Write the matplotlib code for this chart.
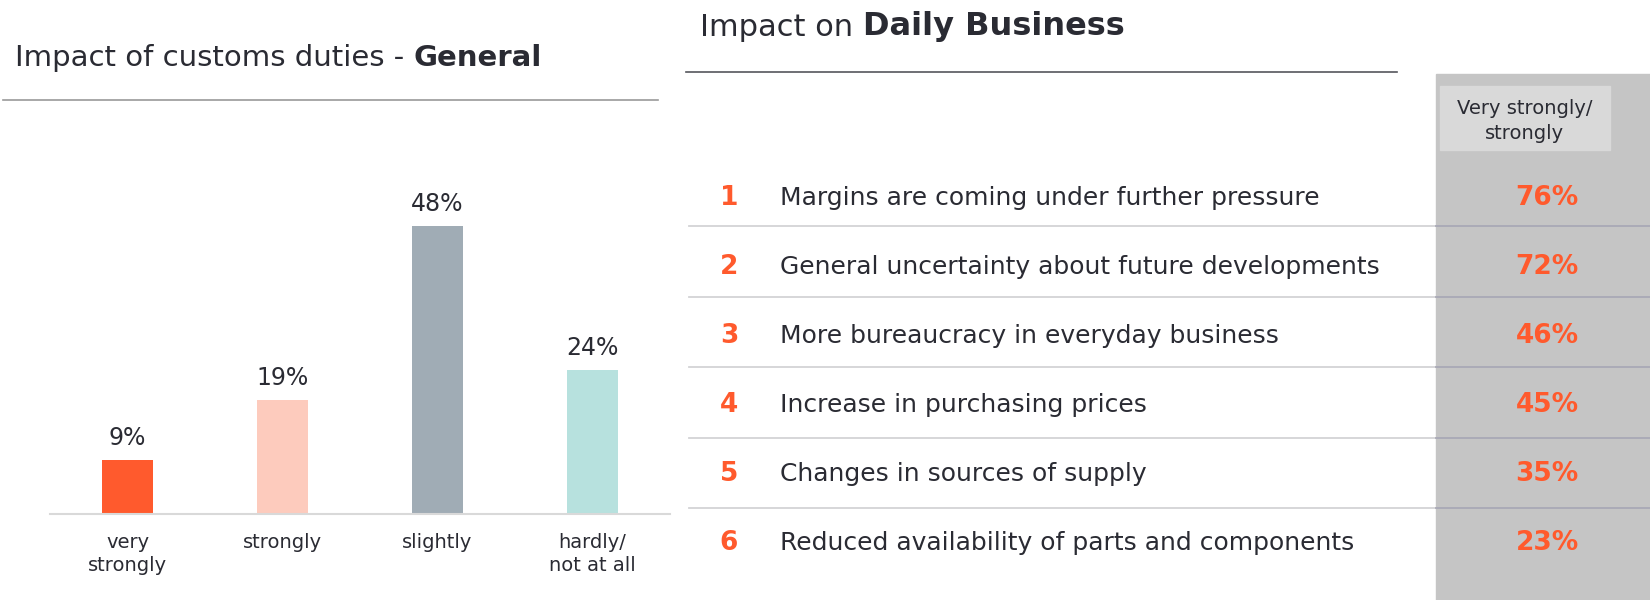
import matplotlib
matplotlib.use("Agg")
import matplotlib.pyplot as plt
import numpy as np

# ---------- Data ----------
general_labels = ["very\nstrongly", "strongly", "slightly", "hardly/\nnot at all"]
general_values = [9, 19, 48, 24]
general_colors = ["#ff5a2d", "#fdcbbd", "#a0acb5", "#b7e1de"]

impact_items = [
    "Margins are coming under further pressure",
    "General uncertainty about future developments",
    "More bureaucracy in everyday business",
    "Increase in purchasing prices",
    "Changes in sources of supply",
    "Reduced availability of parts and components",
]
impact_values = [76, 72, 46, 45, 35, 23]

ORANGE = "#ff5a2d"
DARK = "#2a2b33"
W, H = 1650, 600

plt.rcParams["font.family"] = ["DejaVu Sans"]
fig = plt.figure(figsize=(W / 100, H / 100), dpi=100)

# overlay axes in pixel coordinates (y downwards)
bg = fig.add_axes([0, 0, 1, 1])
bg.set_xlim(0, W)
bg.set_ylim(H, 0)
bg.axis("off")


def two_part_title(x, y, normal, bold, size, bold_size=None):
    t = bg.text(x, y, normal, fontsize=size, color=DARK, va="center", ha="left")
    fig.canvas.draw()
    bb = t.get_window_extent()
    x_end = bg.transData.inverted().transform((bb.x1, bb.y0))[0]
    bg.text(x_end, y, bold, fontsize=bold_size or size, color=DARK, va="center", ha="left",
            fontweight="bold")


# ---------- Left: bar chart ----------
two_part_title(15, 58, "Impact of customs duties - ", "General", 21)
bg.plot([3, 658], [100, 100], color="#9a9a9a", lw=1.2)

ax = fig.add_axes([50 / W, (H - 514) / H, 620 / W, 360 / H])
x = np.arange(len(general_values))
ax.bar(x, general_values, width=0.335, color=general_colors)
ax.set_xlim(-0.5, len(general_values) - 0.5)
ax.set_ylim(0, 60)
for s in ["top", "right", "left"]:
    ax.spines[s].set_visible(False)
ax.spines["bottom"].set_color("#d9d9d9")
ax.spines["bottom"].set_linewidth(1.5)
ax.set_yticks([])
ax.set_xticks(x)
ax.set_xticklabels(general_labels, fontsize=14, color=DARK, linespacing=1.25)
ax.tick_params(axis="x", length=0, pad=14)
for xi, v in zip(x, general_values):
    ax.annotate(f"{v}%", (xi, v), textcoords="offset points", xytext=(0, 7),
                ha="center", va="bottom", fontsize=17, color=DARK)

# ---------- Right: table ----------
two_part_title(700, 27, "Impact on ", "Daily Business", 22, 23)
bg.plot([686, 1397], [72, 72], color="#55565c", lw=1.2)

bg.add_patch(plt.Rectangle((1436, 74), W - 1436, H - 74, color="#c5c5c5", zorder=0))
bg.add_patch(plt.Rectangle((1440, 86), 170, 64, color="#d9d9d9", zorder=1))
bg.text(1525, 121, "Very strongly/\nstrongly", fontsize=14, color=DARK, ha="center", va="center",
        linespacing=1.4, zorder=2)

row_y0, row_h = 198, 69
sep_y0, sep_h = 226, 70.5
for i, (item, v) in enumerate(zip(impact_items, impact_values)):
    yc = row_y0 + i * row_h
    bg.text(729, yc, str(i + 1), fontsize=19, color=ORANGE, fontweight="bold", ha="center", va="center")
    bg.text(780, yc, item, fontsize=18, color=DARK, ha="left", va="center")
    bg.text(1547, yc, f"{v}%", fontsize=19, color=ORANGE, fontweight="bold", ha="center", va="center")
    if i < len(impact_items) - 1:
        ys = sep_y0 + i * sep_h
        bg.plot([689, 1436], [ys, ys], color="#d3d3d6", lw=1.3)
        bg.plot([1436, W], [ys, ys], color="#a9a9b6", lw=1.3)

fig.savefig("out.png", dpi=100)
